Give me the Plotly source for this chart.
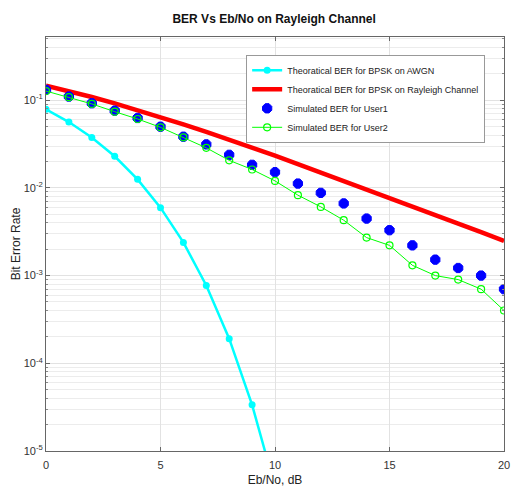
import plotly.graph_objects as go

ebno_awgn = [0, 1, 2, 3, 4, 5, 6, 7, 8, 9, 10]
ber_awgn = [0.0786, 0.0563, 0.0375, 0.0229, 0.0125, 0.00595, 0.00239, 0.00077, 0.000191, 0.0000336, 0.00000387]

ebno = list(range(0, 21))
ber_rayleigh = [0.1464, 0.1267, 0.1085, 0.0919, 0.0771, 0.0642, 0.0530, 0.0435, 0.0355, 0.0288,
                0.0233, 0.0187, 0.0150, 0.0121, 0.00967, 0.00773, 0.00617, 0.00492, 0.00391, 0.00312, 0.00248]
ber_user1 = [0.131, 0.110, 0.0922, 0.0759, 0.0626, 0.0498, 0.0383, 0.0313, 0.0238, 0.0183,
             0.0151, 0.0112, 0.00877, 0.00664, 0.00447, 0.00329, 0.00221, 0.00152, 0.00122, 0.00100, 0.00070]
ber_user2 = [0.127, 0.108, 0.0906, 0.0739, 0.0610, 0.0490, 0.0377, 0.0286, 0.0206, 0.0162,
             0.0120, 0.00826, 0.00607, 0.00428, 0.00271, 0.00221, 0.00131, 0.00100, 0.00090, 0.00070, 0.00040]

x_ticks = [0, 5, 10, 15, 20]
y_ticks = [1e-5, 1e-4, 1e-3, 1e-2, 1e-1]
y_ticktext = ["10<sup>-5</sup>", "10<sup>-4</sup>", "10<sup>-3</sup>", "10<sup>-2</sup>", "10<sup>-1</sup>"]
y_minor = [k * 10.0 ** e for e in range(-5, 0) for k in range(2, 10)]

names = ["Theoratical BER for BPSK on AWGN", "Theoratical BER for BPSK on Rayleigh Channel",
         "Simulated BER for User1", "Simulated BER for User2"]

fig = go.Figure()
fig.add_trace(go.Scatter(x=ebno_awgn, y=ber_awgn, name=names[0], mode="lines+markers",
                         line=dict(color="#00FFFF", width=2.5),
                         marker=dict(color="#00FFFF", size=7, symbol="circle")))
fig.add_trace(go.Scatter(x=ebno, y=ber_rayleigh, name=names[1], mode="lines",
                         line=dict(color="#FF0000", width=4.5)))
fig.add_trace(go.Scatter(x=ebno, y=ber_user1, name=names[2], mode="markers",
                         marker=dict(color="#0000FF", size=10, symbol="octagon",
                                     line=dict(color="#0000FF", width=1))))
fig.add_trace(go.Scatter(x=ebno, y=ber_user2, name=names[3], mode="lines+markers",
                         line=dict(color="#00FF00", width=1),
                         marker=dict(color="#00FF00", size=7, symbol="circle-open",
                                     line=dict(color="#00FF00", width=1.2))))

font = "Liberation Sans, Arial, sans-serif"
fig.update_layout(
    width=511, height=487,
    margin=dict(l=46, r=7, t=37, b=36),
    paper_bgcolor="white", plot_bgcolor="white",
    font=dict(family=font, color="#333333", size=11),
    title=dict(text="<b>BER Vs Eb/No on Rayleigh Channel</b>", x=0.5365, xanchor="center",
               y=0.962, yanchor="middle", font=dict(size=12, color="#111111")),
    legend=dict(x=0.437, y=0.957, xanchor="left", yanchor="top",
                bgcolor="white", bordercolor="#999999", borderwidth=1,
                font=dict(size=9, color="#222222"), tracegroupgap=0, itemwidth=30),
    showlegend=True,
)
fig.update_xaxes(range=[0, 20], tickvals=x_ticks, ticks="inside", ticklen=4, tickcolor="#666",
                 ticklabelstandoff=4,
                 showline=True, linecolor="#666666", linewidth=1, mirror="ticks",
                 showgrid=True, gridcolor="#e2e2e2", gridwidth=1, zeroline=False, automargin=False,
                 title=dict(text="Eb/No, dB", font=dict(size=12, color="#222222"), standoff=8),
                 tickfont=dict(size=11, color="#333333"))
fig.update_yaxes(type="log", range=[-5, -0.28], tickvals=y_ticks, ticktext=y_ticktext,
                 ticks="inside", ticklen=4, tickcolor="#666",
                 showline=True, linecolor="#666666", linewidth=1, mirror="ticks",
                 showgrid=True, gridcolor="#e2e2e2", gridwidth=1, zeroline=False, automargin=False,
                 minor=dict(tickmode="array", tickvals=y_minor, showgrid=True, gridcolor="#ececec",
                            ticks="inside", ticklen=2, tickcolor="#888"),
                 title=dict(text="Bit Error Rate", font=dict(size=12, color="#222222"), standoff=0),
                 tickfont=dict(size=11, color="#333333"))

fig.write_html("out.html", config={"displayModeBar": False},
               post_script="document.body.style.margin='0';")
